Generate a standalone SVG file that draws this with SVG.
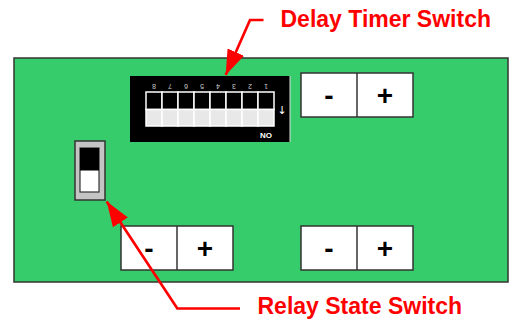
<svg xmlns="http://www.w3.org/2000/svg" width="515" height="321" viewBox="0 0 515 321">
<defs>
<style>
.btn{fill:#ffffff;stroke:#333333;stroke-width:1.5}
.sym{font-family:"Liberation Sans",Arial,sans-serif;font-weight:bold;font-size:28px;fill:#000;text-anchor:middle}
.lbl{font-family:"Liberation Sans",Arial,sans-serif;font-weight:bold;font-size:23px;fill:#ff0000}
.num{font-family:"Liberation Sans",Arial,sans-serif;font-size:7px;fill:#cccccc;text-anchor:middle}
.cell{stroke:#ffffff;stroke-width:1.5}
.conn{fill:none;stroke:#ff0000;stroke-width:2.7;stroke-linejoin:miter}
</style>
<marker id="ah" viewBox="0 0 25 18" refX="25" refY="9" markerWidth="25" markerHeight="18" markerUnits="userSpaceOnUse" orient="auto">
<path d="M0,0 L25,9 L0,18 Z" fill="#ff0000"/>
</marker>
</defs>
<rect width="515" height="321" fill="#ffffff"/>
<g id="board">
<rect x="14" y="58" width="494" height="224" fill="#36cc6b" stroke="#333333" stroke-width="1.5"/>
</g>
<g id="dip-switch">
<rect x="130" y="76" width="160" height="66" fill="#000000"/>
<line x1="290" y1="76" x2="290" y2="142" stroke="#dddddd" stroke-width="1"/>
<g class="cell">
<rect x="146" y="92" width="16" height="17.5" fill="#000"/><rect x="146" y="109.5" width="16" height="16.5" fill="#e8e8e8"/>
<rect x="162" y="92" width="16" height="17.5" fill="#000"/><rect x="162" y="109.5" width="16" height="16.5" fill="#e8e8e8"/>
<rect x="178" y="92" width="16" height="17.5" fill="#000"/><rect x="178" y="109.5" width="16" height="16.5" fill="#e8e8e8"/>
<rect x="194" y="92" width="16" height="17.5" fill="#000"/><rect x="194" y="109.5" width="16" height="16.5" fill="#e8e8e8"/>
<rect x="210" y="92" width="16" height="17.5" fill="#000"/><rect x="210" y="109.5" width="16" height="16.5" fill="#e8e8e8"/>
<rect x="226" y="92" width="16" height="17.5" fill="#000"/><rect x="226" y="109.5" width="16" height="16.5" fill="#e8e8e8"/>
<rect x="242" y="92" width="16" height="17.5" fill="#000"/><rect x="242" y="109.5" width="16" height="16.5" fill="#e8e8e8"/>
<rect x="258" y="92" width="16" height="17.5" fill="#000"/><rect x="258" y="109.5" width="16" height="16.5" fill="#e8e8e8"/>
</g>
<text class="num" x="154" y="89" transform="rotate(180 154 86.5)">8</text>
<text class="num" x="170" y="89" transform="rotate(180 170 86.5)">7</text>
<text class="num" x="186" y="89" transform="rotate(180 186 86.5)">6</text>
<text class="num" x="202" y="89" transform="rotate(180 202 86.5)">5</text>
<text class="num" x="218" y="89" transform="rotate(180 218 86.5)">4</text>
<text class="num" x="234" y="89" transform="rotate(180 234 86.5)">3</text>
<text class="num" x="250" y="89" transform="rotate(180 250 86.5)">2</text>
<text class="num" x="266" y="89" transform="rotate(180 266 86.5)">1</text>
<text x="282" y="114" font-family="'DejaVu Sans',sans-serif" font-size="11" fill="#ffffff" text-anchor="middle">↓</text>
<text x="260" y="137.5" font-family="'Liberation Sans',Arial,sans-serif" font-weight="bold" font-size="8" fill="#ffffff">NO</text>
</g>
<g id="buttons-top-right">
<rect class="btn" x="301" y="73" width="112" height="44"/>
<line x1="357" y1="73" x2="357" y2="117" stroke="#333333" stroke-width="1.5"/>
<text class="sym" x="329" y="105">-</text>
<text class="sym" x="385" y="105">+</text>
</g>
<g id="buttons-bottom-left">
<rect class="btn" x="121" y="226" width="112" height="44"/>
<line x1="177" y1="226" x2="177" y2="270" stroke="#333333" stroke-width="1.5"/>
<text class="sym" x="149" y="258">-</text>
<text class="sym" x="205" y="258">+</text>
</g>
<g id="buttons-bottom-right">
<rect class="btn" x="301" y="226" width="112" height="44"/>
<line x1="357" y1="226" x2="357" y2="270" stroke="#333333" stroke-width="1.5"/>
<text class="sym" x="329" y="258">-</text>
<text class="sym" x="385" y="258">+</text>
</g>
<g id="relay-switch">
<rect x="75" y="141" width="30" height="59" fill="#c4c4c4" stroke="#333333" stroke-width="1.5"/>
<rect x="80" y="148" width="19" height="44" fill="#ffffff" stroke="#333333" stroke-width="1.2"/>
<rect x="80" y="148" width="19" height="22.5" fill="#000000"/>
</g>
<g id="connectors">
<polyline class="conn" points="263.5,20 250,20 225.7,75" marker-end="url(#ah)"/>
<polyline class="conn" points="240,308.5 177.3,308.5 106.7,201.5" marker-end="url(#ah)"/>
</g>
<g id="labels">
<text class="lbl" x="280.5" y="27">Delay Timer Switch</text>
<text class="lbl" x="257.5" y="314">Relay State Switch</text>
</g>
</svg>
